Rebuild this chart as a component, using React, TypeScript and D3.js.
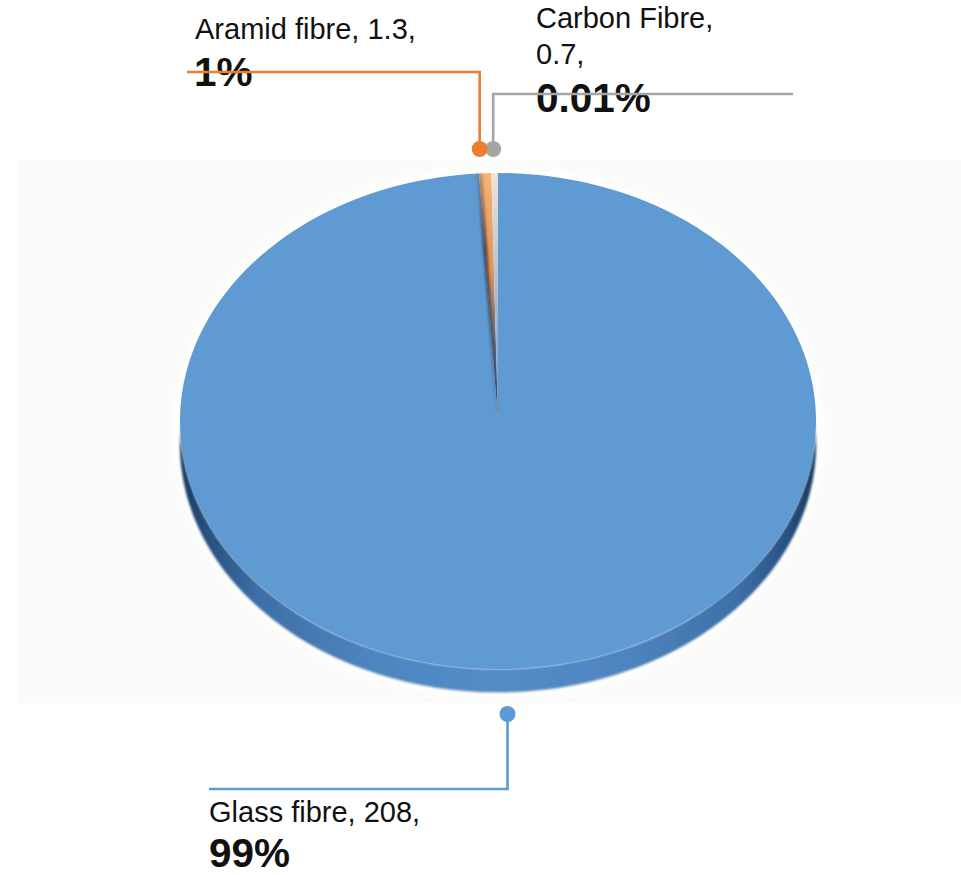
import React from "react";
import * as d3 from "d3";

const categories = ["Glass fibre", "Aramid fibre", "Carbon Fibre"];
const values = [208, 1.3, 0.7];
const valueLabels = ["208", "1.3", "0.7"];
const percentLabels = ["99%", "1%", "0.01%"];
const sliceColors = ["#5f9ad3", "#f19a50", "#cfcfcf"];
const lineColors = ["#5b9bd5", "#ed7d31", "#a5a5a5"];

const W = 961;
const H = 875;
const cx = 498;
const cy = 421;
const rx = 318;
const ry = 248;
const depth = 23;
const FONT = "'Liberation Sans', Arial, sans-serif";

export default function App() {
  const pie = d3.pie<number>().sort(null).startAngle(0).endAngle(2 * Math.PI);
  const arcs = pie(values);
  const arc = d3.arc<d3.PieArcDatum<number>>().innerRadius(0).outerRadius(rx);
  const sy = ry / rx;

  const sidePath = `M${cx - rx},${cy} A${rx},${ry} 0 0 0 ${cx + rx},${cy} L${cx + rx},${cy + depth} A${rx},${ry} 0 0 1 ${cx - rx},${cy + depth} Z`;
  const bottomRim = `M${cx - rx},${cy + depth} A${rx},${ry} 0 0 0 ${cx + rx},${cy + depth}`;

  const mid = (a: d3.PieArcDatum<number>) => (a.startAngle + a.endAngle) / 2;
  const dotPos = (i: number) => {
    const a = arcs[i];
    const m = mid(a);
    const x = cx + rx * Math.sin(m);
    const top = Math.cos(m) > 0;
    const tweak = [0, -5.5, -1.5][i];
    const y = top ? cy - ry - 24 : cy + ry + depth + 22;
    return { x: x + tweak, y };
  };
  const g = dotPos(0);
  const a = dotPos(1);
  const c = dotPos(2);

  const cutArc = d3
    .arc<any>()
    .innerRadius(0)
    .outerRadius(rx)({ startAngle: arcs[1].startAngle - 0.006, endAngle: arcs[1].startAngle + 0.01 } as any);

  const textStyle = { fontFamily: FONT, fill: "#111" };

  return (
    <svg
      width={W}
      height={H}
      style={{ position: "absolute", left: 0, top: 0, background: "#fff" }}
    >
      <defs>
        <filter id="blur" x="-20%" y="-20%" width="140%" height="140%">
          <feGaussianBlur stdDeviation="5" />
        </filter>
        <filter id="blur2" x="-50%" y="-5%" width="200%" height="110%">
          <feGaussianBlur stdDeviation="1.5" />
        </filter>
        <filter id="blur3" x="-5%" y="-5%" width="110%" height="110%">
          <feGaussianBlur stdDeviation="1.2" />
        </filter>
        <linearGradient id="side" x1="0" x2="1" y1="0" y2="0">
          <stop offset="0" stopColor="#1b3a5e" />
          <stop offset="0.04" stopColor="#25507e" />
          <stop offset="0.12" stopColor="#3c6ea6" />
          <stop offset="0.3" stopColor="#4e85c0" />
          <stop offset="0.5" stopColor="#538dc8" />
          <stop offset="0.7" stopColor="#4e85c0" />
          <stop offset="0.88" stopColor="#3c6ea6" />
          <stop offset="0.96" stopColor="#25507e" />
          <stop offset="1" stopColor="#1b3a5e" />
        </linearGradient>
        <linearGradient id="aramid" x1="0" x2="0" y1="0" y2="1">
          <stop offset="0" stopColor="#f7b274" />
          <stop offset="0.4" stopColor="#df955c" />
          <stop offset="0.7" stopColor="#5a6680" />
          <stop offset="1" stopColor="#2e4a6e" />
        </linearGradient>
        <linearGradient id="cut" x1="0" x2="0" y1="0" y2="1">
          <stop offset="0" stopColor="#6a5a58" stopOpacity="0.4" />
          <stop offset="0.3" stopColor="#262a38" stopOpacity="0.9" />
          <stop offset="1" stopColor="#1f3550" stopOpacity="0.9" />
        </linearGradient>
        <linearGradient id="carbon" x1="0" x2="0" y1="0" y2="1">
          <stop offset="0" stopColor="#efe3d6" />
          <stop offset="0.5" stopColor="#a9bcd2" />
          <stop offset="1" stopColor="#6f9ccc" />
        </linearGradient>
      </defs>

      <rect x={19} y={160} width={W - 19} height={703 - 160} fill="#fafaf8" />

      <ellipse
        cx={cx}
        cy={cy + depth / 2}
        rx={rx + 7}
        ry={ry + depth / 2 + 7}
        fill="#ffffff"
        filter="url(#blur)"
      />

      <g filter="url(#blur3)">
        <path d={sidePath} fill="url(#side)" />
        <path d={bottomRim} fill="none" stroke="#2a4f7a" strokeWidth={1.2} opacity={0.4} />
      </g>

      <g transform={`translate(${cx},${cy}) scale(1,${sy})`}>
        {arcs.map((d, i) => (
          <path
            key={categories[i]}
            d={arc(d) || ""}
            fill={i === 0 ? sliceColors[0] : i === 1 ? "url(#aramid)" : "url(#carbon)"}
          />
        ))}
        <path d={cutArc || ""} fill="url(#cut)" filter="url(#blur2)" />
      </g>

      <g style={textStyle}>
        <text x={195} y={39} fontSize={29}>
          {`${categories[1]}, ${valueLabels[1]},`}
        </text>
        <text x={194} y={86} fontSize={40.5} fontWeight="bold">
          {percentLabels[1]}
        </text>

        <text x={536} y={28} fontSize={29}>
          {`${categories[2]},`}
        </text>
        <text x={536} y={64} fontSize={29}>
          {`${valueLabels[2]},`}
        </text>
        <text x={536} y={112} fontSize={40.5} fontWeight="bold">
          {percentLabels[2]}
        </text>

        <text x={209} y={822} fontSize={29}>
          {`${categories[0]}, ${valueLabels[0]},`}
        </text>
        <text x={209} y={867} fontSize={40.5} fontWeight="bold">
          {percentLabels[0]}
        </text>
      </g>

      <polyline
        points={`${a.x},${a.y} ${a.x},72 187,72`}
        fill="none"
        stroke={lineColors[1]}
        strokeWidth={2.6}
      />
      <polyline
        points={`${c.x},${c.y} ${c.x},94 793,94`}
        fill="none"
        stroke={lineColors[2]}
        strokeWidth={2.6}
      />
      <polyline
        points={`${g.x},${g.y} ${g.x},789 209,789`}
        fill="none"
        stroke={lineColors[0]}
        strokeWidth={2.6}
      />
      <circle cx={c.x} cy={c.y} r={8} fill={lineColors[2]} />
      <circle cx={a.x} cy={a.y} r={8} fill={lineColors[1]} />
      <circle cx={g.x} cy={g.y} r={8} fill={lineColors[0]} />
    </svg>
  );
}
